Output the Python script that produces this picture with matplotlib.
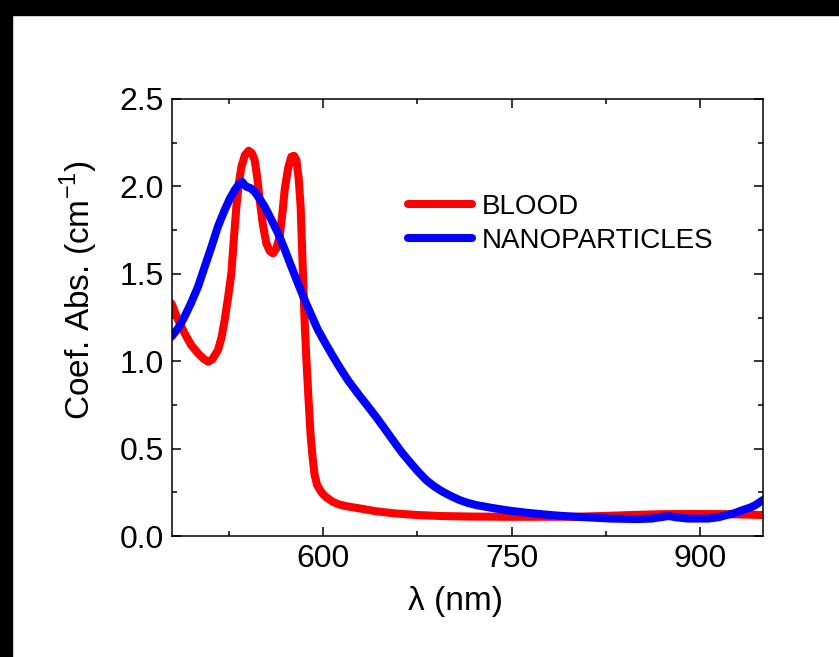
import matplotlib
matplotlib.use("Agg")
import matplotlib.pyplot as plt
from matplotlib.patches import Rectangle
from matplotlib.ticker import MultipleLocator

plt.rcParams['font.family'] = ['Liberation Sans', 'DejaVu Sans']

# Absorption coefficient of blood (nm, cm^-1)
blood_nm = [479.6, 484.0, 490.0, 495.0, 500.7, 505.0, 508.7, 512.0, 516.6, 519.5,
            521.9, 524.5, 527.2, 529.2, 531.2, 533.2, 535.2, 538.0, 541.0, 543.5,
            545.7, 547.8, 549.7, 552.3, 555.0, 557.8, 560.3, 563.0, 565.6, 567.7,
            569.6, 572.2, 574.9, 577.0, 578.9, 580.7, 582.3, 583.9, 585.5, 587.0,
            588.6, 590.2, 591.8, 593.4, 595.5, 598.0, 600.0, 603.0, 608.0, 613.0,
            619.0, 629.0, 642.0, 656.0, 675.0, 695.0, 720.0, 748.0, 775.0, 800.0,
            820.0, 845.0, 870.0, 895.0, 920.0, 940.0, 950.0]
blood_abs = [1.331, 1.250, 1.160, 1.095, 1.045, 1.015, 0.997, 1.010, 1.064, 1.140,
             1.236, 1.360, 1.503, 1.700, 1.884, 2.020, 2.113, 2.180, 2.204, 2.190,
             2.151, 2.050, 1.922, 1.780, 1.674, 1.630, 1.617, 1.645, 1.712, 1.840,
             1.979, 2.100, 2.170, 2.175, 2.151, 2.050, 1.884, 1.550, 1.220, 0.990,
             0.780, 0.580, 0.450, 0.350, 0.290, 0.260, 0.240, 0.220, 0.195, 0.180,
             0.170, 0.158, 0.142, 0.130, 0.120, 0.114, 0.111, 0.110, 0.110, 0.110,
             0.114, 0.120, 0.125, 0.126, 0.125, 0.122, 0.120]

# Absorption coefficient of the nanoparticle suspension
nano_nm = [479.6, 485.0, 490.0, 495.0, 500.7, 506.0, 511.4, 516.5, 521.9, 526.0,
           529.9, 533.0, 535.7, 537.5, 539.2, 542.5, 545.7, 549.7, 553.7, 559.0,
           564.3, 569.6, 574.9, 580.2, 585.5, 591.0, 596.0, 601.4, 607.0, 613.3,
           620.0, 629.4, 636.0, 642.4, 649.0, 655.6, 662.0, 668.9, 675.5, 682.1,
           688.7, 695.3, 702.0, 708.6, 715.0, 721.8, 735.0, 748.3, 761.0, 774.7,
           788.0, 801.3, 815.0, 828.0, 850.0, 862.0, 868.0, 875.0, 882.0, 890.0,
           907.0, 915.0, 920.0, 927.0, 934.0, 940.0, 944.0, 950.0]
nano_abs = [1.140, 1.190, 1.255, 1.330, 1.426, 1.540, 1.655, 1.770, 1.865, 1.930,
            1.979, 2.010, 2.027, 2.010, 1.998, 1.990, 1.970, 1.930, 1.884, 1.810,
            1.732, 1.640, 1.541, 1.445, 1.350, 1.260, 1.180, 1.110, 1.040, 0.965,
            0.890, 0.800, 0.740, 0.680, 0.615, 0.549, 0.485, 0.425, 0.370, 0.320,
            0.283, 0.253, 0.228, 0.206, 0.190, 0.177, 0.160, 0.145, 0.134, 0.124,
            0.116, 0.110, 0.105, 0.100, 0.097, 0.100, 0.107, 0.114, 0.106, 0.100,
            0.100, 0.108, 0.118, 0.130, 0.149, 0.163, 0.177, 0.206]

x_ticks = [600, 750, 900]
y_ticks = [0.0, 0.5, 1.0, 1.5, 2.0, 2.5]

fig = plt.figure(figsize=(8.39, 6.57), dpi=100)
fig.patches.append(Rectangle((0, 0), 12 / 839, 1, transform=fig.transFigure,
                             color='black', zorder=0))
fig.patches.append(Rectangle((0, 1 - 15 / 657), 1, 15 / 657, transform=fig.transFigure,
                             color='black', zorder=0))

ax = fig.add_axes([172 / 839, 121 / 657, 591 / 839, 437 / 657])
ax.plot(blood_nm, blood_abs, color='#ff0000', lw=5.8, label='BLOOD',
        solid_joinstyle='round', solid_capstyle='round')
ax.plot(nano_nm, nano_abs, color='#0000ff', lw=5.8, label='NANOPARTICLES',
        solid_joinstyle='round', solid_capstyle='round')

ax.set_xlim(480, 950)
ax.set_ylim(0, 2.5)
ax.set_xticks(x_ticks)
ax.set_yticks(y_ticks)
ax.set_yticklabels([f'{v:.1f}' for v in y_ticks])
ax.xaxis.set_minor_locator(MultipleLocator(75))
ax.yaxis.set_minor_locator(MultipleLocator(0.25))
ax.tick_params(which='both', direction='in', top=True, right=True, width=1.1,
               labelsize=23, pad=6)
ax.tick_params(which='major', length=6.5)
ax.tick_params(which='minor', length=3.6)
for s in ax.spines.values():
    s.set_linewidth(1.1)

ax.set_xlabel('λ (nm)', fontsize=24)
ax.xaxis.set_label_coords(0.48, -0.115)
ax.set_ylabel('Coef. Abs. (cm$^{\\mathregular{-1}}$)', fontsize=24)
ax.yaxis.set_label_coords(-0.122, 0.563)

ax.legend(loc='upper left', bbox_to_anchor=(0.40, 0.783), frameon=False,
          fontsize=20, handlelength=2.3, handletextpad=0.35, labelspacing=0.3,
          borderaxespad=0, borderpad=0)

fig.savefig('out.png', dpi=100)
